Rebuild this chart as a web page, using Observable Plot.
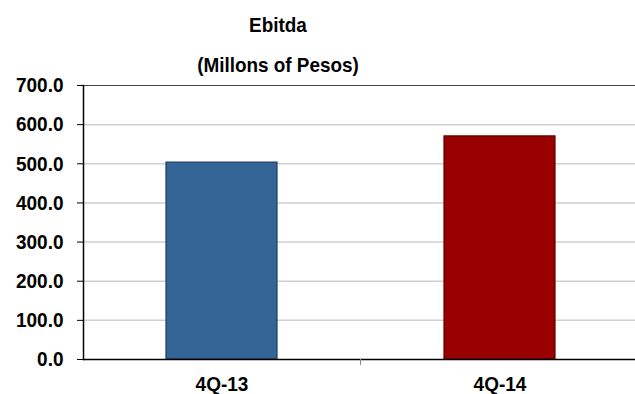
<!DOCTYPE html>
<html>
<head>
<meta charset="utf-8">
<script src="https://cdn.jsdelivr.net/npm/d3@7"></script>
<script src="https://cdn.jsdelivr.net/npm/@observablehq/plot@0.6"></script>
<style>
  html, body { margin: 0; padding: 0; background: #fff; overflow: hidden; }
  #wrap { position: relative; width: 635px; height: 394px; overflow: hidden; font-family: "Liberation Sans", Arial, sans-serif; }
  .ttl { position: absolute; left: 0; width: 556px; text-align: center; font-weight: bold; font-size: 21px; color: #000; line-height: 1; transform: scaleX(0.9); transform-origin: 278px 0; }
  #chart { position: absolute; left: 0; top: 0; width: 640px; }
  #chart svg { max-width: none !important; }
</style>
</head>
<body>
<div id="wrap">
  <div id="chart"></div>
  <div class="ttl" id="t1" style="top:14px">Ebitda</div>
  <div class="ttl" id="t2" style="top:54px">(Millons of Pesos)</div>
</div>
<script>
const categories = ["4Q-13", "4Q-14"];
const values = [503, 570];
const barColors = ["#346597", "#990000"];
const barOutlines = ["#1f3d5e", "#5e0000"];
const yTicks = [0, 100, 200, 300, 400, 500, 600, 700];

const data = categories.map((c, i) => ({cat: c, value: values[i], fill: barColors[i], stroke: barOutlines[i]}));

// small separator tick between the two categories, placed from the band scale
const sepTick = (index, scales, vals, dims) => {
  const g = d3.create("svg:g");
  const bw = typeof scales.x.bandwidth === "function" ? scales.x.bandwidth() : scales.x.bandwidth;
  const xa = scales.x(categories[0]) + bw;
  const xb = scales.x(categories[1]);
  const mid = (xa + xb) / 2;
  const y0 = scales.y(0);
  if (isFinite(mid) && isFinite(y0)) {
    g.append("line").attr("x1", mid).attr("x2", mid).attr("y1", y0).attr("y2", y0 + 6)
      .attr("stroke", "#888").attr("stroke-width", 1);
  }
  return g.node();
};

const chart = Plot.plot({
  width: 640,
  height: 394,
  marginLeft: 83,
  marginRight: 1,
  marginTop: 85,
  marginBottom: 35,
  style: {fontFamily: "'Liberation Sans', Arial, sans-serif", background: "#fff", maxWidth: "none"},
  x: {domain: categories, paddingInner: 0.6, paddingOuter: 0.3},
  y: {domain: [0, 700]},
  marks: [
    Plot.ruleY(yTicks.filter(d => d > 0 && d < 700), {stroke: "#cfcfcf", strokeWidth: 1.5}),
    Plot.ruleY([700], {stroke: "#444", strokeWidth: 1.2}),
    Plot.barY(data, {x: "cat", y: "value", fill: "fill", stroke: "stroke", strokeWidth: 1.2}),
    Plot.ruleY([0], {stroke: "#000", strokeWidth: 1.5}),
    Plot.frame({anchor: "left", stroke: "#000", strokeWidth: 1.5}),
    Plot.axisY(yTicks, {tickSize: 6, tickPadding: 14, tickFormat: d => d.toFixed(1), fontSize: 19, fontWeight: "bold", fill: "#000", label: null}),
    Plot.axisX({tickSize: 0, tickPadding: 17, fontSize: 19, fontWeight: "bold", fill: "#000", label: null}),
    sepTick
  ]
});
chart.style.maxWidth = "none";
document.getElementById("chart").appendChild(chart);

// Taller, slightly condensed glyphs like the reference: enlarge font but keep the width.
d3.select(chart).selectAll("g[aria-label$='tick label'] text").each(function() {
  const len = this.getComputedTextLength();
  d3.select(this).attr("font-size", 21).attr("textLength", len).attr("lengthAdjust", "spacingAndGlyphs");
});
</script>
</body>
</html>
